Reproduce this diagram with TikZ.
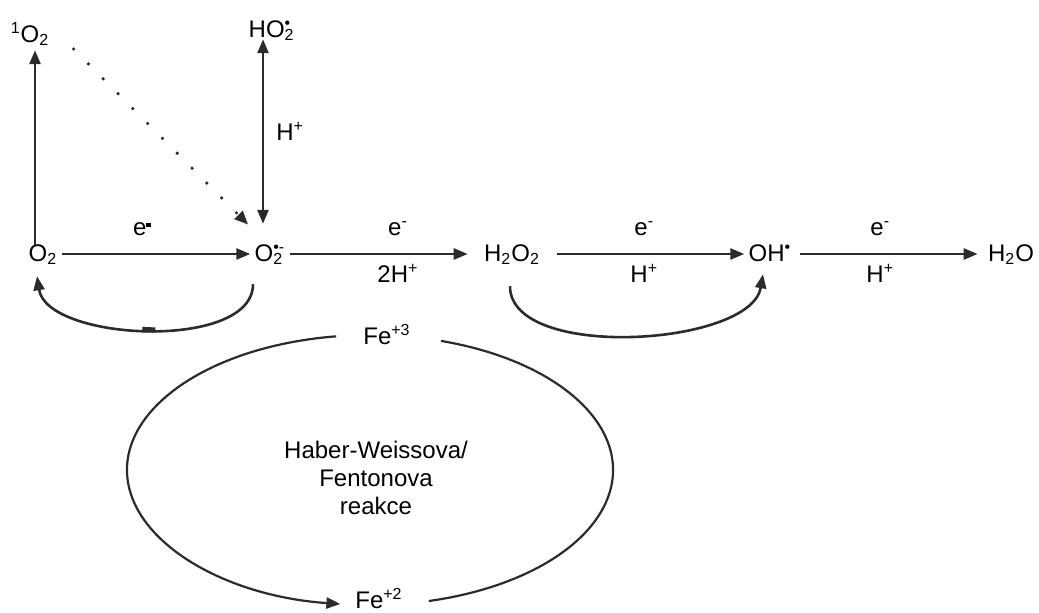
\documentclass[tikz,border=0pt]{standalone}
\usepackage{fontspec}
\setmainfont{Liberation Sans}
\usepackage{tikz}
\usetikzlibrary{arrows.meta,calc}
\definecolor{ink}{HTML}{2B2B2B}
\newcommand{\chemsub}[1]{\textsubscript{#1}}
\newcommand{\chemsubsup}[2]{\rlap{\textsubscript{#1}}\textsuperscript{#2}}
\tikzset{
  >={Triangle[length=7pt,width=5.5pt]},
  flow/.style={->,line width=1.3pt,draw=ink},
  dotflow/.style={->,line width=1.8pt,draw=ink,line cap=round,dash pattern=on 0pt off 10.5pt},
  ring/.style={line width=1.1pt,draw=ink},
  chem/.style={inner sep=2pt,text height=0.9em,text depth=0.184em},
  lbl/.style={inner sep=1pt},
  tickbar/.style={fill=ink,inner sep=0pt,minimum width=6.5pt,minimum height=2.6pt,sloped}
}
\begin{document}
\begin{tikzpicture}[x=0.5pt,y=-0.5pt,font=\fontsize{12}{14}\selectfont]
  \useasboundingbox (0,0) rectangle (1039,612);
  \node[chem] (o2) at (43,254) {O\chemsub{2}};
  \node[chem] (sup) at (270,254) {O\chemsubsup{2}{\textbullet-}};
  \node[chem] (h2o2) at (512,254) {H\chemsub{2}O\chemsub{2}};
  \node[chem] (oh) at (770,254) {OH\textsuperscript{\textbullet}};
  \node[chem] (h2o) at (1011,254) {H\chemsub{2}O};
  \node[chem] (so2) at (30,35) {\textsuperscript{1}O\chemsub{2}};
  \node[chem] (ho2) at (270,30) {HO\chemsubsup{2}{\textbullet}};
  \node[chem] (fe3) at (387,337) {Fe\textsuperscript{+3}};
  \node[chem] (fe2) at (379,601) {Fe\textsuperscript{+2}};
  \node[align=center] (hw) at (376,478) {Haber-Weissova/\\Fentonova\\reakce};
  \coordinate (cyc) at (370,470);
  \draw[flow] (o2) -- node[lbl,above=7.5pt,pos=.43] {e\textsuperscript{\rule{2.5pt}{2pt}}} (sup);
  \draw[flow,shorten >=6pt] (sup) -- node[lbl,above=7.5pt,pos=.57] {e\textsuperscript{-}} node[lbl,below=3.5pt,pos=.57] {2H\textsuperscript{+}} (h2o2);
  \draw[flow,shorten <=6.5pt] (h2o2) -- node[lbl,above=7.5pt] {e\textsuperscript{-}} node[lbl,below=3.5pt] {H\textsuperscript{+}} (oh);
  \draw[flow,shorten <=2pt,shorten >=3pt] (oh) -- node[lbl,above=7.5pt,pos=.45] {e\textsuperscript{-}} node[lbl,below=3.5pt,pos=.45] {H\textsuperscript{+}} (h2o);
  \draw[flow] ($(o2.north)+(-8,6)$) -- ($(so2.south)+(5,0)$);
  \draw[flow,<->] ($(ho2.south)+(-7,-6)$) -- node[lbl,right=5pt] {H\textsuperscript{+}} ($(sup.north)+(-7,-15)$);
  \draw[dotflow] ($(so2.east)+(20,14)$) -- ($(sup.north west)+(-2,-14)$);
  \draw[flow] ($(sup.south)+(-17,15)$) .. controls +(0,67) and +(10,65) .. ($(o2.south)+(-6,7)$) node[tickbar,pos=.5] {};
  \draw[flow] ($(h2o2.south)+(-2,17)$) .. controls +(0,75) and +(-12,72) .. ($(oh.south)+(-7,5)$);
  \draw[ring,->] ($(cyc)+(262:243 and 135)$) arc[start angle=262,end angle=97,x radius=243,y radius=135];
  \draw[ring] ($(cyc)+(-73:243 and 135)$) arc[start angle=-73,end angle=76,x radius=243,y radius=135];
\end{tikzpicture}
\end{document}
